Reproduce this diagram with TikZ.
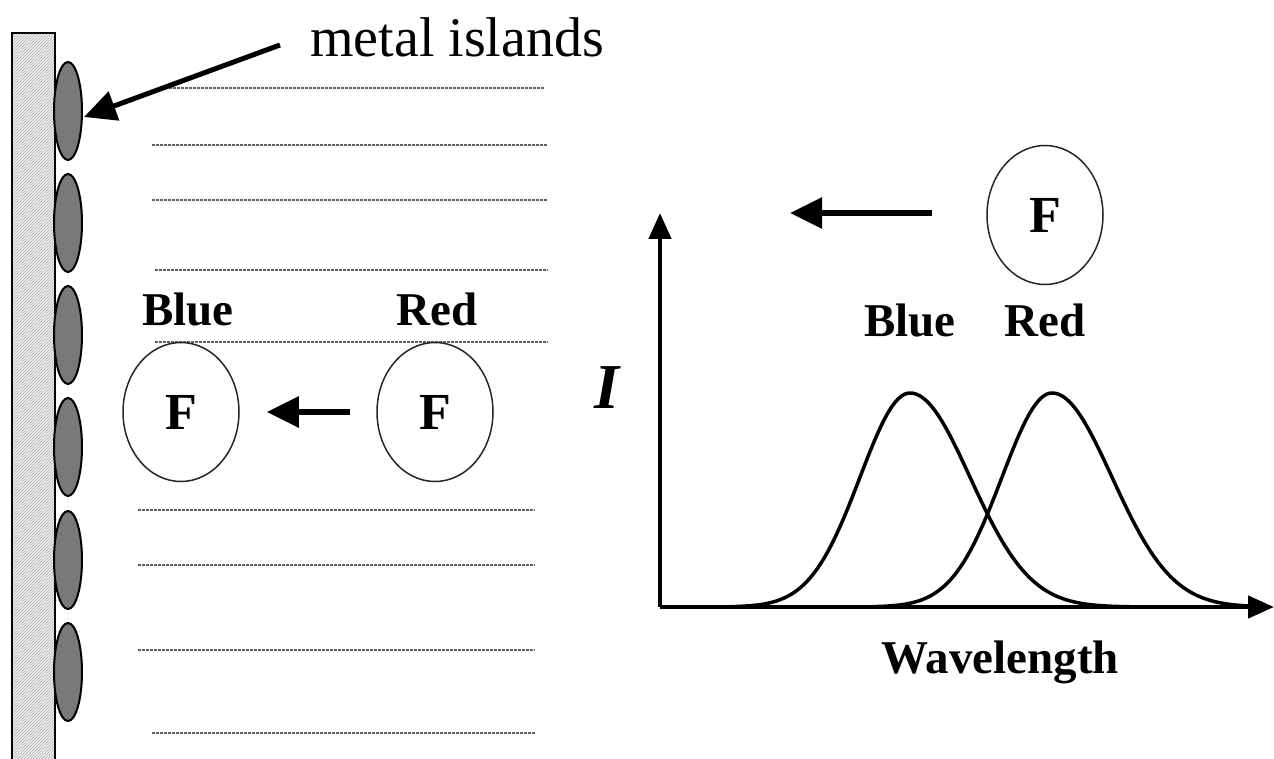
\documentclass[tikz,border=0pt]{standalone}
\usepackage{fontspec}
\setmainfont{Liberation Serif}
\usetikzlibrary{shapes.geometric,arrows.meta,patterns}
\tikzset{
  island/.style={ellipse, draw=black, line width=2pt, fill=gray!95!black, minimum width=28pt, minimum height=98pt, inner sep=0pt},
  fmol/.style={ellipse, draw=black!85, line width=1.5pt, minimum width=116pt, minimum height=139pt, inner sep=0pt, font=\fontsize{52}{56}\selectfont\bfseries},
  lbl/.style={font=\fontsize{47}{52}\selectfont\bfseries, inner sep=0pt},
  fatarrow/.style={line width=6pt, -{Triangle[length=32pt,width=30pt]}},
  axis/.style={line width=4.5pt, -{Triangle[length=26pt,width=22pt]}},
  layer/.style={gray!75!black, line width=1.5pt, dash pattern=on 2.5pt off 1.5pt},
  curve/.style={line width=3.5pt, line join=round}
}
\begin{document}
\begin{tikzpicture}[x=1pt,y=-1pt]
\useasboundingbox (0,0) rectangle (1274,759);
% substrate
\fill[gray!10] (12,33) rectangle (55,759);
\fill[pattern=north east lines, pattern color=gray!65] (12,33) rectangle (55,759);
\draw[line width=2pt] (12,759) -- (12,33) -- (55,33) -- (55,759);
% islands
\foreach \i/\y in {1/111,2/223,3/335,4/447,5/560,6/672}
  \node[island] (isl\i) at (68,\y) {};
% layers
\draw[layer] (165,88) -- (545,88);
\draw[layer] (152,145) -- (548,145);
\draw[layer] (152,200) -- (548,200);
\draw[layer] (155,270) -- (548,270);
\draw[layer] (155,342) -- (548,342);
\draw[layer] (138,510) -- (535,510);
\draw[layer] (138,565) -- (535,565);
\draw[layer] (138,650) -- (535,650);
\draw[layer] (152,733) -- (535,733);
% metal islands label
\node[anchor=base west, inner sep=0pt, font=\fontsize{56}{62}\selectfont] (mi) at (310,57) {metal islands};
\coordinate (mistart) at (280,45);
\coordinate (miend) at (84,117);
\draw[fatarrow, line width=5pt] (mistart) -- (miend);
% left molecules
\node[fmol] (blueF) at (181,412) {F};
\node[fmol] (redF) at (435,412) {F};
\node[lbl, anchor=base] (blueL) at (188,325) {Blue};
\node[lbl, anchor=base] (redL) at (437,325) {Red};
\draw[fatarrow, shorten <=26pt, shorten >=27pt] (redF.west) -- (blueF.east);
% right graph
\coordinate (origin) at (660,607);
\coordinate (ytop) at (660,213);
\coordinate (xend) at (1274,607);
\draw[axis] (origin) -- (ytop);
\draw[axis] (origin) -- (xend);
\node[inner sep=0pt, font=\fontsize{64}{70}\selectfont\bfseries\itshape] (Ilab) at (607,388) {I};
\node[lbl, anchor=base] (wl) at (1000,673) {Wavelength};
\node[fmol] (topF) at (1045,215) {F};
\coordinate (toptail) at (932,213);
\coordinate (toptip) at (790,213);
\draw[fatarrow] (toptail) -- (toptip);
\node[lbl, anchor=base] (blueT) at (910,336) {Blue};
\node[lbl, anchor=base] (redT) at (1045,336) {Red};
% spectra
\draw[curve] plot[domain=730:1130, samples=120] (\x, {607-214*exp(-0.5*((\x-910)/((\x<910)?50:60))^2)});
\draw[curve] plot[domain=872:1262, samples=120] (\x, {607-214*exp(-0.5*((\x-1052)/((\x<1052)?50:60))^2)});
\end{tikzpicture}
\end{document}
